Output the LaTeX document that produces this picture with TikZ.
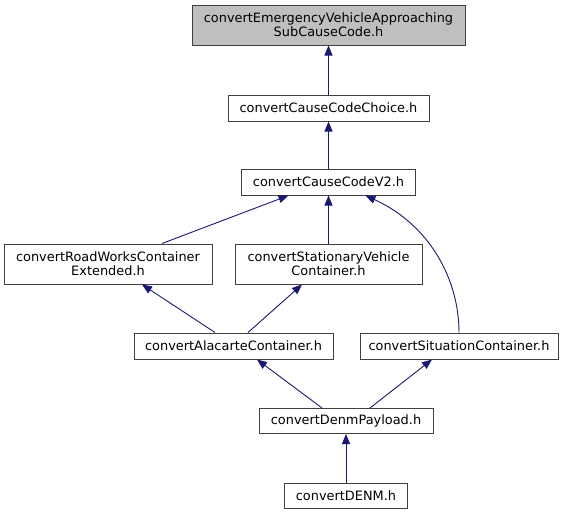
\documentclass[tikz,border=0pt]{standalone}
\usepackage{fontspec}
\setmainfont{DejaVu Sans}
\usetikzlibrary{arrows.meta}
\definecolor{edgeblue}{HTML}{191970}
\definecolor{boxline}{HTML}{404040}
\definecolor{topfill}{HTML}{BFBFBF}
\tikzset{
  filebox/.style={draw=boxline, line width=1pt, fill=white, inner sep=0pt, align=center,
    font=\fontsize{12.9}{14.2}\selectfont},
  dep/.style={draw=edgeblue, line width=0.9pt, -{Triangle[length=10pt,width=8pt]}, edgeblue}
}
\begin{document}
\begin{tikzpicture}[x=1pt,y=-1pt]
\useasboundingbox (0,0) rectangle (566,515);
\node[filebox, fill=topfill, minimum width=273pt, minimum height=40pt] (n1) at (328.5,25) {convertEmergencyVehicleApproaching\\SubCauseCode.h};
\node[filebox, minimum width=201pt, minimum height=26pt] (n2) at (328.5,108) {convertCauseCodeChoice.h};
\node[filebox, minimum width=174pt, minimum height=26pt] (n3) at (328.5,182) {convertCauseCodeV2.h};
\node[filebox, minimum width=208pt, minimum height=40pt] (n4) at (108,264) {convertRoadWorksContainer\\Extended.h};
\node[filebox, minimum width=187pt, minimum height=40pt] (n5) at (328.5,264) {convertStationaryVehicle\\Container.h};
\node[filebox, minimum width=199pt, minimum height=26pt] (n6) at (233.5,346) {convertAlacarteContainer.h};
\node[filebox, minimum width=198pt, minimum height=26pt] (n7) at (459,346) {convertSituationContainer.h};
\node[filebox, minimum width=174pt, minimum height=25pt] (n8) at (346,421) {convertDenmPayload.h};
\node[filebox, minimum width=123pt, minimum height=25pt] (n9) at (346,495.5) {convertDENM.h};

\draw[dep] (n2.north) -- (n1.south);
\draw[dep] (n3.north) -- (n2.south);
\draw[dep] ([xshift=54pt]n4.north) -- ([xshift=-40pt]n3.south);
\draw[dep] (n5.north) -- (n3.south);
\draw[dep] (n7.north) .. controls ([yshift=53pt]n7.north) and (430,225) .. ([xshift=37pt]n3.south);
\draw[dep] ([xshift=-18.5pt]n6.north) -- ([xshift=34pt]n4.south);
\draw[dep] ([xshift=14.5pt]n6.north) -- ([xshift=-26.5pt]n5.south);
\draw[dep] ([xshift=-24pt]n8.north) -- ([xshift=23.5pt]n6.south);
\draw[dep] ([xshift=24pt]n8.north) -- ([xshift=-27pt]n7.south);
\draw[dep] (n9.north) -- (n8.south);
\end{tikzpicture}
\end{document}
